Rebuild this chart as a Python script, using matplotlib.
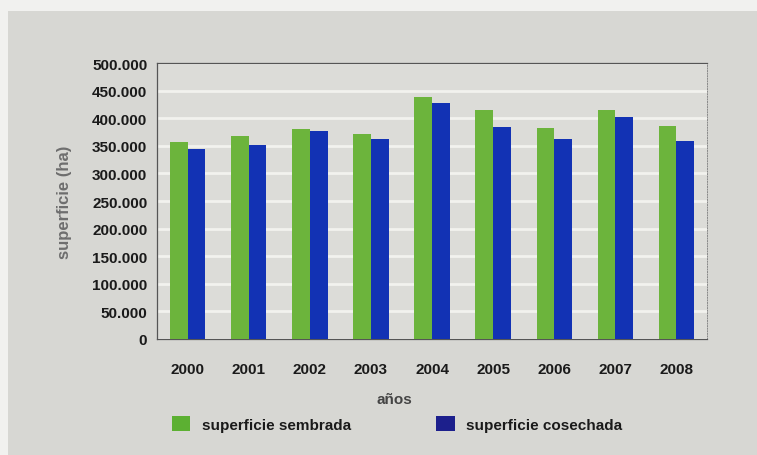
import matplotlib
matplotlib.use("Agg")
import matplotlib.pyplot as plt
import numpy as np
from matplotlib.patches import Rectangle, Patch

years = ["2000", "2001", "2002", "2003", "2004", "2005", "2006", "2007", "2008"]
sembrada = [356000, 367000, 380000, 371000, 439000, 415000, 382000, 414000, 385000]
cosechada = [344000, 352000, 376000, 362000, 427000, 384000, 362000, 403000, 359000]
yticks = [0, 50000, 100000, 150000, 200000, 250000, 300000, 350000, 400000, 450000, 500000]
ytick_labels = ["0", "50.000", "100.000", "150.000", "200.000", "250.000", "300.000",
                "350.000", "400.000", "450.000", "500.000"]

plt.rcParams['font.family'] = ['Liberation Sans', 'DejaVu Sans']

W, H = 757, 456
fig = plt.figure(figsize=(W / 100, H / 100), dpi=100, facecolor="#f1f1ef")
fig.patches.append(Rectangle((8 / W, 0), 1 - 8 / W, (H - 12) / H, transform=fig.transFigure,
                             facecolor="#d7d7d3", edgecolor="none", zorder=-10))

ax = fig.add_axes([157 / W, (H - 340) / H, 550 / W, 276 / H])
ax.set_zorder(1)
ax.set_facecolor("#dcdcd8")

x = np.arange(len(years))
bw = 0.29
green = "#6cb43c"
blue = "#1232b4"
ax.bar(x - bw / 2, sembrada, width=bw, color=green, zorder=3)
ax.bar(x + bw / 2, cosechada, width=bw, color=blue, zorder=3)

ax.set_xlim(-0.5, len(years) - 0.5)
ax.set_ylim(0, 500000)
ax.set_yticks(yticks)
ax.set_yticklabels(ytick_labels)
ax.set_xticks(x)
ax.set_xticklabels(years)
ax.yaxis.grid(True, color="#f2f2ee", linewidth=2, zorder=1)
ax.set_axisbelow(True)
ax.tick_params(axis="both", length=0, labelsize=11, colors="#1a1a1a")
ax.tick_params(axis="y", pad=7)
ax.tick_params(axis="x", pad=16.5)
for lbl in ax.get_xticklabels() + ax.get_yticklabels():
    lbl.set_fontweight("bold")

for s in ["left", "top", "bottom"]:
    ax.spines[s].set_color("#555555")
    ax.spines[s].set_linewidth(0.9)
ax.spines["right"].set_color("#888888")
ax.spines["right"].set_linewidth(0.7)
ax.spines["right"].set_linestyle(":")

ax.set_ylabel("superficie (ha)", fontsize=12, color="#6e6e6e", fontweight="bold")
ax.yaxis.set_label_coords(-92 / 550, 0.5)
ax.yaxis.label.set_va("center")
ax.set_xlabel("años", fontsize=11, color="#444444", fontweight="bold")
ax.xaxis.set_label_coords((394 - 157) / 550, -(400 - 340) / 276)
ax.xaxis.label.set_va("center")

handles = [Patch(facecolor="#5cb032", edgecolor="none"),
           Patch(facecolor="#1c1f8c", edgecolor="none")]
leg = fig.legend(handles, ["superficie sembrada", "superficie cosechada"],
                 loc="center left", bbox_to_anchor=(158 / W, 1 - 425 / H),
                 ncol=2, frameon=False, handlelength=1.2, handleheight=1.1,
                 handletextpad=0.75, columnspacing=5.6,
                 prop={"size": 11, "weight": "bold"})
for t in leg.get_texts():
    t.set_color("#1a1a1a")

fig.savefig("out.png", dpi=100, facecolor=fig.get_facecolor())
